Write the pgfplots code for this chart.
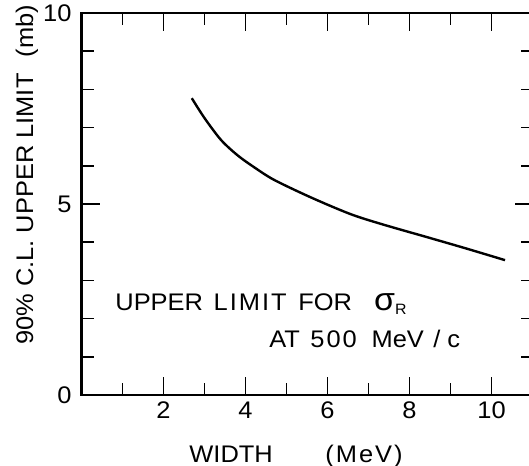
\documentclass[border=0pt]{standalone}
\usepackage{fontspec}
\setmainfont{Liberation Sans}[FakeStretch=1.06]
\usepackage{pgfplots}
\pgfplotsset{compat=1.18}
\begin{document}
\begin{tikzpicture}
\useasboundingbox (0,0) rectangle (264.5pt,232.5pt);
\begin{axis}[
  at={(40.75pt,35pt)}, anchor=south west,
  width=225.5pt, height=191pt, scale only axis,
  xmin=0, xmax=11, ymin=0, ymax=10,
  xtick={2,4,6,8,10}, minor xtick={1,3,5,7,9},
  ytick={0,5,10}, minor ytick={1,2,3,4,6,7,8,9},
  tick align=inside,
  major tick length=9pt, minor tick length=6pt,
  axis line style={line width=1.1pt},
  every tick/.style={black, line width=0.8pt},
  tick label style={font=\fontsize{12}{14}\selectfont},
  /pgf/number format/assume math mode=true,
  yticklabel style={xshift=-1.5pt},
  xlabel={WIDTH\hspace{26.3pt}(\kern1pt{}M\kern1pt{}e\kern1pt{}V\kern1pt{})},
  ylabel={90\% C.L. UPPER LIMIT\hspace{8pt}(mb)},
  label style={font=\fontsize{12}{14}\selectfont},
  xlabel style={at={(rel axis cs:0.2384,-0.1754)}, anchor=base west, inner sep=0pt},
  ylabel style={at={(rel axis cs:-0.1075,0.576)}, anchor=base},
  clip=false,
]
\addplot[smooth, line width=1.2pt, black] coordinates {
 (2.69,7.77) (3.0,7.25) (3.4,6.68) (3.8,6.28) (4.2,5.97) (4.7,5.63)
 (5.6,5.17) (6.55,4.74) (7.3,4.48) (8.5,4.11) (9.4,3.83) (10.33,3.53)
};
\node[anchor=base west, font=\fontsize{12}{14}\selectfont, inner sep=0pt] at (axis cs:0.817,2.199)
  {UPPER\hspace{5.3pt}L\kern1pt{}I\kern1pt{}M\kern1pt{}I\kern1pt{}T\hspace{5.8pt}FOR\hspace{11.1pt}{\fontsize{16}{16}\selectfont σ}\raisebox{-2pt}{\fontsize{7.5}{8}\selectfont R}};
\node[anchor=base west, font=\fontsize{12}{14}\selectfont, inner sep=0pt] at (axis cs:4.573,1.2565)
  {AT\hspace{5.2pt}5\kern1pt{}0\kern1pt{}0\hspace{7.4pt}MeV\hspace{4.7pt}/\hspace{3.5pt}c};
\end{axis}
\end{tikzpicture}
\end{document}
